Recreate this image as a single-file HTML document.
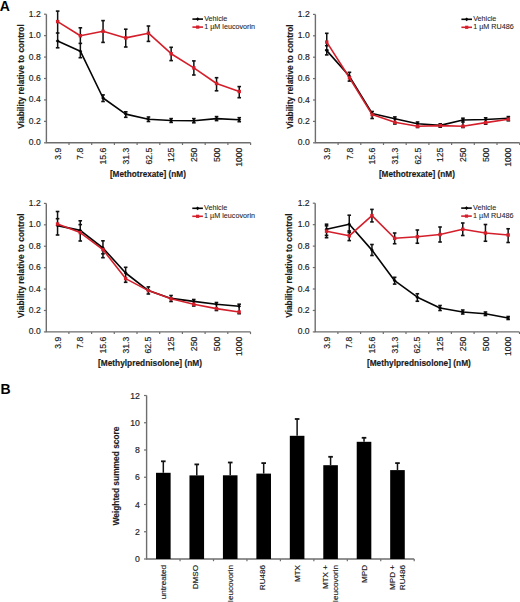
<!DOCTYPE html>
<html><head><meta charset="utf-8"><style>
html,body{margin:0;padding:0;background:#fff;}
body{width:520px;height:602px;overflow:hidden;}
svg{display:block;}
text{font-family:"Liberation Sans",sans-serif;}
.tk,.tkb,.tkb2{stroke:#222;stroke-width:0.16px;}
.lg{stroke:#333;stroke-width:0.08px;}
.tk{font-size:8.6px;fill:#222;}
.tkb{font-size:8.7px;fill:#222;}
.tkb2{font-size:8.1px;fill:#222;}
.tt{font-size:8.3px;font-weight:bold;fill:#1a1a1a;stroke:#1a1a1a;stroke-width:0.15px;}
.lg{font-size:7.2px;fill:#222;}
.pl{font-size:14px;font-weight:bold;fill:#000;}
.e{stroke:#111;stroke-width:1.5;}
.ec{stroke:#111;stroke-width:1.6;}
</style></head><body>
<svg width="520" height="602" viewBox="0 0 520 602">
<rect width="520" height="602" fill="#fff"/>
<text x="-0.3" y="10.5" class="pl">A</text>
<path d="M46.4 14.2V142.8H250.6" fill="none" stroke="#6e6e6e" stroke-width="1.4"/>
<line x1="44" y1="142.8" x2="46.4" y2="142.8" stroke="#6e6e6e" stroke-width="1.2"/>
<text x="40.8" y="145.3" class="tk" text-anchor="end">0.0</text>
<line x1="44" y1="121.37" x2="46.4" y2="121.37" stroke="#6e6e6e" stroke-width="1.2"/>
<text x="40.8" y="123.87" class="tk" text-anchor="end">0.2</text>
<line x1="44" y1="99.93" x2="46.4" y2="99.93" stroke="#6e6e6e" stroke-width="1.2"/>
<text x="40.8" y="102.43" class="tk" text-anchor="end">0.4</text>
<line x1="44" y1="78.5" x2="46.4" y2="78.5" stroke="#6e6e6e" stroke-width="1.2"/>
<text x="40.8" y="81" class="tk" text-anchor="end">0.6</text>
<line x1="44" y1="57.07" x2="46.4" y2="57.07" stroke="#6e6e6e" stroke-width="1.2"/>
<text x="40.8" y="59.57" class="tk" text-anchor="end">0.8</text>
<line x1="44" y1="35.63" x2="46.4" y2="35.63" stroke="#6e6e6e" stroke-width="1.2"/>
<text x="40.8" y="38.13" class="tk" text-anchor="end">1.0</text>
<line x1="44" y1="14.2" x2="46.4" y2="14.2" stroke="#6e6e6e" stroke-width="1.2"/>
<text x="40.8" y="16.7" class="tk" text-anchor="end">1.2</text>
<line x1="69" y1="142.8" x2="69" y2="145" stroke="#6e6e6e" stroke-width="1.2"/>
<line x1="91.7" y1="142.8" x2="91.7" y2="145" stroke="#6e6e6e" stroke-width="1.2"/>
<line x1="114.4" y1="142.8" x2="114.4" y2="145" stroke="#6e6e6e" stroke-width="1.2"/>
<line x1="137.1" y1="142.8" x2="137.1" y2="145" stroke="#6e6e6e" stroke-width="1.2"/>
<line x1="159.8" y1="142.8" x2="159.8" y2="145" stroke="#6e6e6e" stroke-width="1.2"/>
<line x1="182.5" y1="142.8" x2="182.5" y2="145" stroke="#6e6e6e" stroke-width="1.2"/>
<line x1="205.2" y1="142.8" x2="205.2" y2="145" stroke="#6e6e6e" stroke-width="1.2"/>
<line x1="227.9" y1="142.8" x2="227.9" y2="145" stroke="#6e6e6e" stroke-width="1.2"/>
<line x1="250.6" y1="142.8" x2="250.6" y2="145" stroke="#6e6e6e" stroke-width="1.2"/>
<text transform="translate(60.75 147.7) rotate(-90)" class="tk" text-anchor="end">3.9</text>
<text transform="translate(83.45 147.7) rotate(-90)" class="tk" text-anchor="end">7.8</text>
<text transform="translate(106.15 147.7) rotate(-90)" class="tk" text-anchor="end">15.6</text>
<text transform="translate(128.85 147.7) rotate(-90)" class="tk" text-anchor="end">31.3</text>
<text transform="translate(151.55 147.7) rotate(-90)" class="tk" text-anchor="end">62.5</text>
<text transform="translate(174.25 147.7) rotate(-90)" class="tk" text-anchor="end">125</text>
<text transform="translate(196.95 147.7) rotate(-90)" class="tk" text-anchor="end">250</text>
<text transform="translate(219.65 147.7) rotate(-90)" class="tk" text-anchor="end">500</text>
<text transform="translate(242.35 147.7) rotate(-90)" class="tk" text-anchor="end">1000</text>
<text transform="translate(23.6 76.5) rotate(-90)" class="tt" text-anchor="middle" textLength="104.5" lengthAdjust="spacingAndGlyphs">Viability relative to control</text>
<text x="147.9" y="176.7" class="tt" text-anchor="middle" textLength="76" lengthAdjust="spacingAndGlyphs">[Methotrexate] (nM)</text>
<line x1="192.4" y1="19.1" x2="203" y2="19.1" stroke="#050505" stroke-width="1.6"/>
<path d="M197.7 17.2l1.9 1.9l-1.9 1.9l-1.9 -1.9z" fill="#050505"/>
<text x="204.2" y="21.2" class="lg">Vehicle</text>
<line x1="192.4" y1="27.1" x2="203" y2="27.1" stroke="#d41f2b" stroke-width="1.6"/>
<rect x="196.1" y="25.5" width="3.2" height="3.2" fill="#d41f2b"/>
<text x="204.2" y="29.2" class="lg">1 µM leucovorin</text>
<line x1="57.65" y1="11.1" x2="57.65" y2="47.8" class="e"/>
<line x1="55.85" y1="11.1" x2="59.45" y2="11.1" class="ec"/>
<line x1="55.85" y1="47.8" x2="59.45" y2="47.8" class="ec"/>
<line x1="55.85" y1="33" x2="59.45" y2="33" class="ec"/>
<line x1="80.35" y1="27.8" x2="80.35" y2="57.7" class="e"/>
<line x1="78.55" y1="27.8" x2="82.15" y2="27.8" class="ec"/>
<line x1="78.55" y1="57.7" x2="82.15" y2="57.7" class="ec"/>
<line x1="78.55" y1="43.4" x2="82.15" y2="43.4" class="ec"/>
<line x1="103.05" y1="20.6" x2="103.05" y2="42.4" class="e"/>
<line x1="101.25" y1="20.6" x2="104.85" y2="20.6" class="ec"/>
<line x1="101.25" y1="42.4" x2="104.85" y2="42.4" class="ec"/>
<line x1="103.05" y1="94.9" x2="103.05" y2="101.5" class="e"/>
<line x1="101.25" y1="94.9" x2="104.85" y2="94.9" class="ec"/>
<line x1="101.25" y1="101.5" x2="104.85" y2="101.5" class="ec"/>
<line x1="125.75" y1="29.2" x2="125.75" y2="47" class="e"/>
<line x1="123.95" y1="29.2" x2="127.55" y2="29.2" class="ec"/>
<line x1="123.95" y1="47" x2="127.55" y2="47" class="ec"/>
<line x1="125.75" y1="111.8" x2="125.75" y2="117.3" class="e"/>
<line x1="123.95" y1="111.8" x2="127.55" y2="111.8" class="ec"/>
<line x1="123.95" y1="117.3" x2="127.55" y2="117.3" class="ec"/>
<line x1="148.45" y1="26" x2="148.45" y2="41.4" class="e"/>
<line x1="146.65" y1="26" x2="150.25" y2="26" class="ec"/>
<line x1="146.65" y1="41.4" x2="150.25" y2="41.4" class="ec"/>
<line x1="148.45" y1="117" x2="148.45" y2="121.5" class="e"/>
<line x1="146.65" y1="117" x2="150.25" y2="117" class="ec"/>
<line x1="146.65" y1="121.5" x2="150.25" y2="121.5" class="ec"/>
<line x1="171.15" y1="47.3" x2="171.15" y2="60.6" class="e"/>
<line x1="169.35" y1="47.3" x2="172.95" y2="47.3" class="ec"/>
<line x1="169.35" y1="60.6" x2="172.95" y2="60.6" class="ec"/>
<line x1="171.15" y1="118.6" x2="171.15" y2="122.4" class="e"/>
<line x1="169.35" y1="118.6" x2="172.95" y2="118.6" class="ec"/>
<line x1="169.35" y1="122.4" x2="172.95" y2="122.4" class="ec"/>
<line x1="193.85" y1="60.9" x2="193.85" y2="75" class="e"/>
<line x1="192.05" y1="60.9" x2="195.65" y2="60.9" class="ec"/>
<line x1="192.05" y1="75" x2="195.65" y2="75" class="ec"/>
<line x1="193.85" y1="118.6" x2="193.85" y2="122.8" class="e"/>
<line x1="192.05" y1="118.6" x2="195.65" y2="118.6" class="ec"/>
<line x1="192.05" y1="122.8" x2="195.65" y2="122.8" class="ec"/>
<line x1="216.55" y1="77.7" x2="216.55" y2="90.8" class="e"/>
<line x1="214.75" y1="77.7" x2="218.35" y2="77.7" class="ec"/>
<line x1="214.75" y1="90.8" x2="218.35" y2="90.8" class="ec"/>
<line x1="216.55" y1="116.6" x2="216.55" y2="120.6" class="e"/>
<line x1="214.75" y1="116.6" x2="218.35" y2="116.6" class="ec"/>
<line x1="214.75" y1="120.6" x2="218.35" y2="120.6" class="ec"/>
<line x1="239.25" y1="86.6" x2="239.25" y2="97.7" class="e"/>
<line x1="237.45" y1="86.6" x2="241.05" y2="86.6" class="ec"/>
<line x1="237.45" y1="97.7" x2="241.05" y2="97.7" class="ec"/>
<line x1="239.25" y1="117.7" x2="239.25" y2="121.7" class="e"/>
<line x1="237.45" y1="117.7" x2="241.05" y2="117.7" class="ec"/>
<line x1="237.45" y1="121.7" x2="241.05" y2="121.7" class="ec"/>
<polyline points="57.65,41 80.35,51.2 103.05,98 125.75,114.1 148.45,119.3 171.15,120.5 193.85,120.7 216.55,118.6 239.25,119.7" fill="none" stroke="#050505" stroke-width="1.6" stroke-linejoin="round"/>
<polyline points="57.65,21.6 80.35,35.7 103.05,31.3 125.75,37.9 148.45,33.2 171.15,53.7 193.85,67.9 216.55,83.5 239.25,91.5" fill="none" stroke="#d41f2b" stroke-width="1.6" stroke-linejoin="round"/>
<path d="M57.65 39.1l1.9 1.9l-1.9 1.9l-1.9 -1.9z" fill="#050505"/>
<path d="M80.35 49.3l1.9 1.9l-1.9 1.9l-1.9 -1.9z" fill="#050505"/>
<path d="M103.05 96.1l1.9 1.9l-1.9 1.9l-1.9 -1.9z" fill="#050505"/>
<path d="M125.75 112.2l1.9 1.9l-1.9 1.9l-1.9 -1.9z" fill="#050505"/>
<path d="M148.45 117.4l1.9 1.9l-1.9 1.9l-1.9 -1.9z" fill="#050505"/>
<path d="M171.15 118.6l1.9 1.9l-1.9 1.9l-1.9 -1.9z" fill="#050505"/>
<path d="M193.85 118.8l1.9 1.9l-1.9 1.9l-1.9 -1.9z" fill="#050505"/>
<path d="M216.55 116.7l1.9 1.9l-1.9 1.9l-1.9 -1.9z" fill="#050505"/>
<path d="M239.25 117.8l1.9 1.9l-1.9 1.9l-1.9 -1.9z" fill="#050505"/>
<rect x="55.95" y="19.9" width="3.4" height="3.4" fill="#d41f2b"/>
<rect x="78.65" y="34" width="3.4" height="3.4" fill="#d41f2b"/>
<rect x="101.35" y="29.6" width="3.4" height="3.4" fill="#d41f2b"/>
<rect x="124.05" y="36.2" width="3.4" height="3.4" fill="#d41f2b"/>
<rect x="146.75" y="31.5" width="3.4" height="3.4" fill="#d41f2b"/>
<rect x="169.45" y="52" width="3.4" height="3.4" fill="#d41f2b"/>
<rect x="192.15" y="66.2" width="3.4" height="3.4" fill="#d41f2b"/>
<rect x="214.85" y="81.8" width="3.4" height="3.4" fill="#d41f2b"/>
<rect x="237.55" y="89.8" width="3.4" height="3.4" fill="#d41f2b"/>
<path d="M315.4 14.4V142.8H519.7" fill="none" stroke="#6e6e6e" stroke-width="1.4"/>
<line x1="313" y1="142.8" x2="315.4" y2="142.8" stroke="#6e6e6e" stroke-width="1.2"/>
<text x="309.8" y="145.3" class="tk" text-anchor="end">0.0</text>
<line x1="313" y1="121.4" x2="315.4" y2="121.4" stroke="#6e6e6e" stroke-width="1.2"/>
<text x="309.8" y="123.9" class="tk" text-anchor="end">0.2</text>
<line x1="313" y1="100" x2="315.4" y2="100" stroke="#6e6e6e" stroke-width="1.2"/>
<text x="309.8" y="102.5" class="tk" text-anchor="end">0.4</text>
<line x1="313" y1="78.6" x2="315.4" y2="78.6" stroke="#6e6e6e" stroke-width="1.2"/>
<text x="309.8" y="81.1" class="tk" text-anchor="end">0.6</text>
<line x1="313" y1="57.2" x2="315.4" y2="57.2" stroke="#6e6e6e" stroke-width="1.2"/>
<text x="309.8" y="59.7" class="tk" text-anchor="end">0.8</text>
<line x1="313" y1="35.8" x2="315.4" y2="35.8" stroke="#6e6e6e" stroke-width="1.2"/>
<text x="309.8" y="38.3" class="tk" text-anchor="end">1.0</text>
<line x1="313" y1="14.4" x2="315.4" y2="14.4" stroke="#6e6e6e" stroke-width="1.2"/>
<text x="309.8" y="16.9" class="tk" text-anchor="end">1.2</text>
<line x1="338.1" y1="142.8" x2="338.1" y2="145" stroke="#6e6e6e" stroke-width="1.2"/>
<line x1="360.8" y1="142.8" x2="360.8" y2="145" stroke="#6e6e6e" stroke-width="1.2"/>
<line x1="383.5" y1="142.8" x2="383.5" y2="145" stroke="#6e6e6e" stroke-width="1.2"/>
<line x1="406.2" y1="142.8" x2="406.2" y2="145" stroke="#6e6e6e" stroke-width="1.2"/>
<line x1="428.9" y1="142.8" x2="428.9" y2="145" stroke="#6e6e6e" stroke-width="1.2"/>
<line x1="451.6" y1="142.8" x2="451.6" y2="145" stroke="#6e6e6e" stroke-width="1.2"/>
<line x1="474.3" y1="142.8" x2="474.3" y2="145" stroke="#6e6e6e" stroke-width="1.2"/>
<line x1="497" y1="142.8" x2="497" y2="145" stroke="#6e6e6e" stroke-width="1.2"/>
<line x1="519.7" y1="142.8" x2="519.7" y2="145" stroke="#6e6e6e" stroke-width="1.2"/>
<text transform="translate(329.85 147.7) rotate(-90)" class="tk" text-anchor="end">3.9</text>
<text transform="translate(352.55 147.7) rotate(-90)" class="tk" text-anchor="end">7.8</text>
<text transform="translate(375.25 147.7) rotate(-90)" class="tk" text-anchor="end">15.6</text>
<text transform="translate(397.95 147.7) rotate(-90)" class="tk" text-anchor="end">31.3</text>
<text transform="translate(420.65 147.7) rotate(-90)" class="tk" text-anchor="end">62.5</text>
<text transform="translate(443.35 147.7) rotate(-90)" class="tk" text-anchor="end">125</text>
<text transform="translate(466.05 147.7) rotate(-90)" class="tk" text-anchor="end">250</text>
<text transform="translate(488.75 147.7) rotate(-90)" class="tk" text-anchor="end">500</text>
<text transform="translate(511.45 147.7) rotate(-90)" class="tk" text-anchor="end">1000</text>
<text transform="translate(292.6 76.6) rotate(-90)" class="tt" text-anchor="middle" textLength="104.5" lengthAdjust="spacingAndGlyphs">Viability relative to control</text>
<text x="416.9" y="176.7" class="tt" text-anchor="middle" textLength="76" lengthAdjust="spacingAndGlyphs">[Methotrexate] (nM)</text>
<line x1="461.4" y1="19.3" x2="472" y2="19.3" stroke="#050505" stroke-width="1.6"/>
<path d="M466.7 17.4l1.9 1.9l-1.9 1.9l-1.9 -1.9z" fill="#050505"/>
<text x="473.2" y="21.4" class="lg">Vehicle</text>
<line x1="461.4" y1="27.3" x2="472" y2="27.3" stroke="#d41f2b" stroke-width="1.6"/>
<rect x="465.1" y="25.7" width="3.2" height="3.2" fill="#d41f2b"/>
<text x="473.2" y="29.4" class="lg">1 µM RU486</text>
<line x1="326.75" y1="33.3" x2="326.75" y2="54.9" class="e"/>
<line x1="324.95" y1="33.3" x2="328.55" y2="33.3" class="ec"/>
<line x1="324.95" y1="54.9" x2="328.55" y2="54.9" class="ec"/>
<line x1="324.95" y1="45.7" x2="328.55" y2="45.7" class="ec"/>
<line x1="324.95" y1="50" x2="328.55" y2="50" class="ec"/>
<line x1="349.45" y1="72.3" x2="349.45" y2="81.1" class="e"/>
<line x1="347.65" y1="72.3" x2="351.25" y2="72.3" class="ec"/>
<line x1="347.65" y1="81.1" x2="351.25" y2="81.1" class="ec"/>
<line x1="372.15" y1="111.5" x2="372.15" y2="118.5" class="e"/>
<line x1="370.35" y1="111.5" x2="373.95" y2="111.5" class="ec"/>
<line x1="370.35" y1="118.5" x2="373.95" y2="118.5" class="ec"/>
<line x1="394.85" y1="116.9" x2="394.85" y2="124" class="e"/>
<line x1="393.05" y1="116.9" x2="396.65" y2="116.9" class="ec"/>
<line x1="393.05" y1="124" x2="396.65" y2="124" class="ec"/>
<line x1="417.55" y1="122" x2="417.55" y2="127.5" class="e"/>
<line x1="415.75" y1="122" x2="419.35" y2="122" class="ec"/>
<line x1="415.75" y1="127.5" x2="419.35" y2="127.5" class="ec"/>
<line x1="440.25" y1="123.8" x2="440.25" y2="127.2" class="e"/>
<line x1="438.45" y1="123.8" x2="442.05" y2="123.8" class="ec"/>
<line x1="438.45" y1="127.2" x2="442.05" y2="127.2" class="ec"/>
<line x1="462.95" y1="118.2" x2="462.95" y2="127.5" class="e"/>
<line x1="461.15" y1="118.2" x2="464.75" y2="118.2" class="ec"/>
<line x1="461.15" y1="127.5" x2="464.75" y2="127.5" class="ec"/>
<line x1="461.15" y1="122" x2="464.75" y2="122" class="ec"/>
<line x1="485.65" y1="117.8" x2="485.65" y2="124.2" class="e"/>
<line x1="483.85" y1="117.8" x2="487.45" y2="117.8" class="ec"/>
<line x1="483.85" y1="124.2" x2="487.45" y2="124.2" class="ec"/>
<line x1="508.35" y1="116.6" x2="508.35" y2="120.8" class="e"/>
<line x1="506.55" y1="116.6" x2="510.15" y2="116.6" class="ec"/>
<line x1="506.55" y1="120.8" x2="510.15" y2="120.8" class="ec"/>
<polyline points="326.75,50.6 349.45,76.3 372.15,113.5 394.85,118.8 417.55,123.8 440.25,125.4 462.95,120 485.65,119.5 508.35,118.2" fill="none" stroke="#050505" stroke-width="1.6" stroke-linejoin="round"/>
<polyline points="326.75,42.1 349.45,77.8 372.15,114.6 394.85,122.3 417.55,126.2 440.25,125.6 462.95,126.2 485.65,122.6 508.35,119.2" fill="none" stroke="#d41f2b" stroke-width="1.6" stroke-linejoin="round"/>
<path d="M326.75 48.7l1.9 1.9l-1.9 1.9l-1.9 -1.9z" fill="#050505"/>
<path d="M349.45 74.4l1.9 1.9l-1.9 1.9l-1.9 -1.9z" fill="#050505"/>
<path d="M372.15 111.6l1.9 1.9l-1.9 1.9l-1.9 -1.9z" fill="#050505"/>
<path d="M394.85 116.9l1.9 1.9l-1.9 1.9l-1.9 -1.9z" fill="#050505"/>
<path d="M417.55 121.9l1.9 1.9l-1.9 1.9l-1.9 -1.9z" fill="#050505"/>
<path d="M440.25 123.5l1.9 1.9l-1.9 1.9l-1.9 -1.9z" fill="#050505"/>
<path d="M462.95 118.1l1.9 1.9l-1.9 1.9l-1.9 -1.9z" fill="#050505"/>
<path d="M485.65 117.6l1.9 1.9l-1.9 1.9l-1.9 -1.9z" fill="#050505"/>
<path d="M508.35 116.3l1.9 1.9l-1.9 1.9l-1.9 -1.9z" fill="#050505"/>
<rect x="325.05" y="40.4" width="3.4" height="3.4" fill="#d41f2b"/>
<rect x="347.75" y="76.1" width="3.4" height="3.4" fill="#d41f2b"/>
<rect x="370.45" y="112.9" width="3.4" height="3.4" fill="#d41f2b"/>
<rect x="393.15" y="120.6" width="3.4" height="3.4" fill="#d41f2b"/>
<rect x="415.85" y="124.5" width="3.4" height="3.4" fill="#d41f2b"/>
<rect x="438.55" y="123.9" width="3.4" height="3.4" fill="#d41f2b"/>
<rect x="461.25" y="124.5" width="3.4" height="3.4" fill="#d41f2b"/>
<rect x="483.95" y="120.9" width="3.4" height="3.4" fill="#d41f2b"/>
<rect x="506.65" y="117.5" width="3.4" height="3.4" fill="#d41f2b"/>
<path d="M46.3 203.4V331.9H250.5" fill="none" stroke="#6e6e6e" stroke-width="1.4"/>
<line x1="43.9" y1="331.9" x2="46.3" y2="331.9" stroke="#6e6e6e" stroke-width="1.2"/>
<text x="40.7" y="334.4" class="tk" text-anchor="end">0.0</text>
<line x1="43.9" y1="310.48" x2="46.3" y2="310.48" stroke="#6e6e6e" stroke-width="1.2"/>
<text x="40.7" y="312.98" class="tk" text-anchor="end">0.2</text>
<line x1="43.9" y1="289.07" x2="46.3" y2="289.07" stroke="#6e6e6e" stroke-width="1.2"/>
<text x="40.7" y="291.57" class="tk" text-anchor="end">0.4</text>
<line x1="43.9" y1="267.65" x2="46.3" y2="267.65" stroke="#6e6e6e" stroke-width="1.2"/>
<text x="40.7" y="270.15" class="tk" text-anchor="end">0.6</text>
<line x1="43.9" y1="246.23" x2="46.3" y2="246.23" stroke="#6e6e6e" stroke-width="1.2"/>
<text x="40.7" y="248.73" class="tk" text-anchor="end">0.8</text>
<line x1="43.9" y1="224.82" x2="46.3" y2="224.82" stroke="#6e6e6e" stroke-width="1.2"/>
<text x="40.7" y="227.32" class="tk" text-anchor="end">1.0</text>
<line x1="43.9" y1="203.4" x2="46.3" y2="203.4" stroke="#6e6e6e" stroke-width="1.2"/>
<text x="40.7" y="205.9" class="tk" text-anchor="end">1.2</text>
<line x1="68.9" y1="331.9" x2="68.9" y2="334.1" stroke="#6e6e6e" stroke-width="1.2"/>
<line x1="91.6" y1="331.9" x2="91.6" y2="334.1" stroke="#6e6e6e" stroke-width="1.2"/>
<line x1="114.3" y1="331.9" x2="114.3" y2="334.1" stroke="#6e6e6e" stroke-width="1.2"/>
<line x1="137" y1="331.9" x2="137" y2="334.1" stroke="#6e6e6e" stroke-width="1.2"/>
<line x1="159.7" y1="331.9" x2="159.7" y2="334.1" stroke="#6e6e6e" stroke-width="1.2"/>
<line x1="182.4" y1="331.9" x2="182.4" y2="334.1" stroke="#6e6e6e" stroke-width="1.2"/>
<line x1="205.1" y1="331.9" x2="205.1" y2="334.1" stroke="#6e6e6e" stroke-width="1.2"/>
<line x1="227.8" y1="331.9" x2="227.8" y2="334.1" stroke="#6e6e6e" stroke-width="1.2"/>
<line x1="250.5" y1="331.9" x2="250.5" y2="334.1" stroke="#6e6e6e" stroke-width="1.2"/>
<text transform="translate(60.65 336.8) rotate(-90)" class="tk" text-anchor="end">3.9</text>
<text transform="translate(83.35 336.8) rotate(-90)" class="tk" text-anchor="end">7.8</text>
<text transform="translate(106.05 336.8) rotate(-90)" class="tk" text-anchor="end">15.6</text>
<text transform="translate(128.75 336.8) rotate(-90)" class="tk" text-anchor="end">31.3</text>
<text transform="translate(151.45 336.8) rotate(-90)" class="tk" text-anchor="end">62.5</text>
<text transform="translate(174.15 336.8) rotate(-90)" class="tk" text-anchor="end">125</text>
<text transform="translate(196.85 336.8) rotate(-90)" class="tk" text-anchor="end">250</text>
<text transform="translate(219.55 336.8) rotate(-90)" class="tk" text-anchor="end">500</text>
<text transform="translate(242.25 336.8) rotate(-90)" class="tk" text-anchor="end">1000</text>
<text transform="translate(23.5 265.65) rotate(-90)" class="tt" text-anchor="middle" textLength="104.5" lengthAdjust="spacingAndGlyphs">Viability relative to control</text>
<text x="150" y="366.3" class="tt" text-anchor="middle" textLength="104" lengthAdjust="spacingAndGlyphs">[Methylprednisolone] (nM)</text>
<line x1="192.3" y1="208.3" x2="202.9" y2="208.3" stroke="#050505" stroke-width="1.6"/>
<path d="M197.6 206.4l1.9 1.9l-1.9 1.9l-1.9 -1.9z" fill="#050505"/>
<text x="204.1" y="210.4" class="lg">Vehicle</text>
<line x1="192.3" y1="216.3" x2="202.9" y2="216.3" stroke="#d41f2b" stroke-width="1.6"/>
<rect x="196" y="214.7" width="3.2" height="3.2" fill="#d41f2b"/>
<text x="204.1" y="218.4" class="lg">1 µM leucovorin</text>
<line x1="57.55" y1="211.5" x2="57.55" y2="235" class="e"/>
<line x1="55.75" y1="211.5" x2="59.35" y2="211.5" class="ec"/>
<line x1="55.75" y1="235" x2="59.35" y2="235" class="ec"/>
<line x1="55.75" y1="218.7" x2="59.35" y2="218.7" class="ec"/>
<line x1="80.25" y1="220.8" x2="80.25" y2="241" class="e"/>
<line x1="78.45" y1="220.8" x2="82.05" y2="220.8" class="ec"/>
<line x1="78.45" y1="241" x2="82.05" y2="241" class="ec"/>
<line x1="78.45" y1="224.6" x2="82.05" y2="224.6" class="ec"/>
<line x1="102.95" y1="240.8" x2="102.95" y2="257.7" class="e"/>
<line x1="101.15" y1="240.8" x2="104.75" y2="240.8" class="ec"/>
<line x1="101.15" y1="257.7" x2="104.75" y2="257.7" class="ec"/>
<line x1="101.15" y1="253.8" x2="104.75" y2="253.8" class="ec"/>
<line x1="125.65" y1="267.3" x2="125.65" y2="282.3" class="e"/>
<line x1="123.85" y1="267.3" x2="127.45" y2="267.3" class="ec"/>
<line x1="123.85" y1="282.3" x2="127.45" y2="282.3" class="ec"/>
<line x1="148.35" y1="286.9" x2="148.35" y2="294" class="e"/>
<line x1="146.55" y1="286.9" x2="150.15" y2="286.9" class="ec"/>
<line x1="146.55" y1="294" x2="150.15" y2="294" class="ec"/>
<line x1="171.05" y1="295.5" x2="171.05" y2="301.5" class="e"/>
<line x1="169.25" y1="295.5" x2="172.85" y2="295.5" class="ec"/>
<line x1="169.25" y1="301.5" x2="172.85" y2="301.5" class="ec"/>
<line x1="193.75" y1="299.5" x2="193.75" y2="306" class="e"/>
<line x1="191.95" y1="299.5" x2="195.55" y2="299.5" class="ec"/>
<line x1="191.95" y1="306" x2="195.55" y2="306" class="ec"/>
<line x1="216.45" y1="302.5" x2="216.45" y2="310.5" class="e"/>
<line x1="214.65" y1="302.5" x2="218.25" y2="302.5" class="ec"/>
<line x1="214.65" y1="310.5" x2="218.25" y2="310.5" class="ec"/>
<line x1="239.15" y1="304.2" x2="239.15" y2="313.7" class="e"/>
<line x1="237.35" y1="304.2" x2="240.95" y2="304.2" class="ec"/>
<line x1="237.35" y1="313.7" x2="240.95" y2="313.7" class="ec"/>
<polyline points="57.55,225.6 80.25,230.4 102.95,248 125.65,273 148.35,290.6 171.05,298.4 193.75,301.4 216.45,304.3 239.15,306.2" fill="none" stroke="#050505" stroke-width="1.6" stroke-linejoin="round"/>
<polyline points="57.55,224 80.25,232.6 102.95,249.6 125.65,278.6 148.35,290.6 171.05,298.8 193.75,304.2 216.45,308.6 239.15,312" fill="none" stroke="#d41f2b" stroke-width="1.6" stroke-linejoin="round"/>
<path d="M57.55 223.7l1.9 1.9l-1.9 1.9l-1.9 -1.9z" fill="#050505"/>
<path d="M80.25 228.5l1.9 1.9l-1.9 1.9l-1.9 -1.9z" fill="#050505"/>
<path d="M102.95 246.1l1.9 1.9l-1.9 1.9l-1.9 -1.9z" fill="#050505"/>
<path d="M125.65 271.1l1.9 1.9l-1.9 1.9l-1.9 -1.9z" fill="#050505"/>
<path d="M148.35 288.7l1.9 1.9l-1.9 1.9l-1.9 -1.9z" fill="#050505"/>
<path d="M171.05 296.5l1.9 1.9l-1.9 1.9l-1.9 -1.9z" fill="#050505"/>
<path d="M193.75 299.5l1.9 1.9l-1.9 1.9l-1.9 -1.9z" fill="#050505"/>
<path d="M216.45 302.4l1.9 1.9l-1.9 1.9l-1.9 -1.9z" fill="#050505"/>
<path d="M239.15 304.3l1.9 1.9l-1.9 1.9l-1.9 -1.9z" fill="#050505"/>
<rect x="55.85" y="222.3" width="3.4" height="3.4" fill="#d41f2b"/>
<rect x="78.55" y="230.9" width="3.4" height="3.4" fill="#d41f2b"/>
<rect x="101.25" y="247.9" width="3.4" height="3.4" fill="#d41f2b"/>
<rect x="123.95" y="276.9" width="3.4" height="3.4" fill="#d41f2b"/>
<rect x="146.65" y="288.9" width="3.4" height="3.4" fill="#d41f2b"/>
<rect x="169.35" y="297.1" width="3.4" height="3.4" fill="#d41f2b"/>
<rect x="192.05" y="302.5" width="3.4" height="3.4" fill="#d41f2b"/>
<rect x="214.75" y="306.9" width="3.4" height="3.4" fill="#d41f2b"/>
<rect x="237.45" y="310.3" width="3.4" height="3.4" fill="#d41f2b"/>
<path d="M315.2 203.2V331.9H519.5" fill="none" stroke="#6e6e6e" stroke-width="1.4"/>
<line x1="312.8" y1="331.9" x2="315.2" y2="331.9" stroke="#6e6e6e" stroke-width="1.2"/>
<text x="309.6" y="334.4" class="tk" text-anchor="end">0.0</text>
<line x1="312.8" y1="310.45" x2="315.2" y2="310.45" stroke="#6e6e6e" stroke-width="1.2"/>
<text x="309.6" y="312.95" class="tk" text-anchor="end">0.2</text>
<line x1="312.8" y1="289" x2="315.2" y2="289" stroke="#6e6e6e" stroke-width="1.2"/>
<text x="309.6" y="291.5" class="tk" text-anchor="end">0.4</text>
<line x1="312.8" y1="267.55" x2="315.2" y2="267.55" stroke="#6e6e6e" stroke-width="1.2"/>
<text x="309.6" y="270.05" class="tk" text-anchor="end">0.6</text>
<line x1="312.8" y1="246.1" x2="315.2" y2="246.1" stroke="#6e6e6e" stroke-width="1.2"/>
<text x="309.6" y="248.6" class="tk" text-anchor="end">0.8</text>
<line x1="312.8" y1="224.65" x2="315.2" y2="224.65" stroke="#6e6e6e" stroke-width="1.2"/>
<text x="309.6" y="227.15" class="tk" text-anchor="end">1.0</text>
<line x1="312.8" y1="203.2" x2="315.2" y2="203.2" stroke="#6e6e6e" stroke-width="1.2"/>
<text x="309.6" y="205.7" class="tk" text-anchor="end">1.2</text>
<line x1="337.9" y1="331.9" x2="337.9" y2="334.1" stroke="#6e6e6e" stroke-width="1.2"/>
<line x1="360.6" y1="331.9" x2="360.6" y2="334.1" stroke="#6e6e6e" stroke-width="1.2"/>
<line x1="383.3" y1="331.9" x2="383.3" y2="334.1" stroke="#6e6e6e" stroke-width="1.2"/>
<line x1="406" y1="331.9" x2="406" y2="334.1" stroke="#6e6e6e" stroke-width="1.2"/>
<line x1="428.7" y1="331.9" x2="428.7" y2="334.1" stroke="#6e6e6e" stroke-width="1.2"/>
<line x1="451.4" y1="331.9" x2="451.4" y2="334.1" stroke="#6e6e6e" stroke-width="1.2"/>
<line x1="474.1" y1="331.9" x2="474.1" y2="334.1" stroke="#6e6e6e" stroke-width="1.2"/>
<line x1="496.8" y1="331.9" x2="496.8" y2="334.1" stroke="#6e6e6e" stroke-width="1.2"/>
<line x1="519.5" y1="331.9" x2="519.5" y2="334.1" stroke="#6e6e6e" stroke-width="1.2"/>
<text transform="translate(329.65 336.8) rotate(-90)" class="tk" text-anchor="end">3.9</text>
<text transform="translate(352.35 336.8) rotate(-90)" class="tk" text-anchor="end">7.8</text>
<text transform="translate(375.05 336.8) rotate(-90)" class="tk" text-anchor="end">15.6</text>
<text transform="translate(397.75 336.8) rotate(-90)" class="tk" text-anchor="end">31.3</text>
<text transform="translate(420.45 336.8) rotate(-90)" class="tk" text-anchor="end">62.5</text>
<text transform="translate(443.15 336.8) rotate(-90)" class="tk" text-anchor="end">125</text>
<text transform="translate(465.85 336.8) rotate(-90)" class="tk" text-anchor="end">250</text>
<text transform="translate(488.55 336.8) rotate(-90)" class="tk" text-anchor="end">500</text>
<text transform="translate(511.25 336.8) rotate(-90)" class="tk" text-anchor="end">1000</text>
<text transform="translate(292.4 265.55) rotate(-90)" class="tt" text-anchor="middle" textLength="104.5" lengthAdjust="spacingAndGlyphs">Viability relative to control</text>
<text x="418.9" y="366.3" class="tt" text-anchor="middle" textLength="104" lengthAdjust="spacingAndGlyphs">[Methylprednisolone] (nM)</text>
<line x1="461.2" y1="208.1" x2="471.8" y2="208.1" stroke="#050505" stroke-width="1.6"/>
<path d="M466.5 206.2l1.9 1.9l-1.9 1.9l-1.9 -1.9z" fill="#050505"/>
<text x="473" y="210.2" class="lg">Vehicle</text>
<line x1="461.2" y1="216.1" x2="471.8" y2="216.1" stroke="#d41f2b" stroke-width="1.6"/>
<rect x="464.9" y="214.5" width="3.2" height="3.2" fill="#d41f2b"/>
<text x="473" y="218.2" class="lg">1 µM RU486</text>
<line x1="326.55" y1="224.2" x2="326.55" y2="237.7" class="e"/>
<line x1="324.75" y1="224.2" x2="328.35" y2="224.2" class="ec"/>
<line x1="324.75" y1="237.7" x2="328.35" y2="237.7" class="ec"/>
<line x1="324.75" y1="225.8" x2="328.35" y2="225.8" class="ec"/>
<line x1="324.75" y1="235.4" x2="328.35" y2="235.4" class="ec"/>
<line x1="349.25" y1="215.2" x2="349.25" y2="240.6" class="e"/>
<line x1="347.45" y1="215.2" x2="351.05" y2="215.2" class="ec"/>
<line x1="347.45" y1="240.6" x2="351.05" y2="240.6" class="ec"/>
<line x1="347.45" y1="232.5" x2="351.05" y2="232.5" class="ec"/>
<line x1="347.45" y1="231" x2="351.05" y2="231" class="ec"/>
<line x1="371.95" y1="209.4" x2="371.95" y2="221.9" class="e"/>
<line x1="370.15" y1="209.4" x2="373.75" y2="209.4" class="ec"/>
<line x1="370.15" y1="221.9" x2="373.75" y2="221.9" class="ec"/>
<line x1="371.95" y1="244.5" x2="371.95" y2="255.5" class="e"/>
<line x1="370.15" y1="244.5" x2="373.75" y2="244.5" class="ec"/>
<line x1="370.15" y1="255.5" x2="373.75" y2="255.5" class="ec"/>
<line x1="394.65" y1="233" x2="394.65" y2="243.75" class="e"/>
<line x1="392.85" y1="233" x2="396.45" y2="233" class="ec"/>
<line x1="392.85" y1="243.75" x2="396.45" y2="243.75" class="ec"/>
<line x1="394.65" y1="277.3" x2="394.65" y2="284.1" class="e"/>
<line x1="392.85" y1="277.3" x2="396.45" y2="277.3" class="ec"/>
<line x1="392.85" y1="284.1" x2="396.45" y2="284.1" class="ec"/>
<line x1="417.35" y1="230" x2="417.35" y2="243.25" class="e"/>
<line x1="415.55" y1="230" x2="419.15" y2="230" class="ec"/>
<line x1="415.55" y1="243.25" x2="419.15" y2="243.25" class="ec"/>
<line x1="417.35" y1="293.75" x2="417.35" y2="301.25" class="e"/>
<line x1="415.55" y1="293.75" x2="419.15" y2="293.75" class="ec"/>
<line x1="415.55" y1="301.25" x2="419.15" y2="301.25" class="ec"/>
<line x1="440.05" y1="227" x2="440.05" y2="242" class="e"/>
<line x1="438.25" y1="227" x2="441.85" y2="227" class="ec"/>
<line x1="438.25" y1="242" x2="441.85" y2="242" class="ec"/>
<line x1="440.05" y1="305.5" x2="440.05" y2="310.5" class="e"/>
<line x1="438.25" y1="305.5" x2="441.85" y2="305.5" class="ec"/>
<line x1="438.25" y1="310.5" x2="441.85" y2="310.5" class="ec"/>
<line x1="462.75" y1="223" x2="462.75" y2="235.5" class="e"/>
<line x1="460.95" y1="223" x2="464.55" y2="223" class="ec"/>
<line x1="460.95" y1="235.5" x2="464.55" y2="235.5" class="ec"/>
<line x1="462.75" y1="310" x2="462.75" y2="314" class="e"/>
<line x1="460.95" y1="310" x2="464.55" y2="310" class="ec"/>
<line x1="460.95" y1="314" x2="464.55" y2="314" class="ec"/>
<line x1="485.45" y1="224.5" x2="485.45" y2="241.25" class="e"/>
<line x1="483.65" y1="224.5" x2="487.25" y2="224.5" class="ec"/>
<line x1="483.65" y1="241.25" x2="487.25" y2="241.25" class="ec"/>
<line x1="485.45" y1="312" x2="485.45" y2="315.5" class="e"/>
<line x1="483.65" y1="312" x2="487.25" y2="312" class="ec"/>
<line x1="483.65" y1="315.5" x2="487.25" y2="315.5" class="ec"/>
<line x1="508.15" y1="228.75" x2="508.15" y2="242.5" class="e"/>
<line x1="506.35" y1="228.75" x2="509.95" y2="228.75" class="ec"/>
<line x1="506.35" y1="242.5" x2="509.95" y2="242.5" class="ec"/>
<line x1="508.15" y1="316.5" x2="508.15" y2="319.5" class="e"/>
<line x1="506.35" y1="316.5" x2="509.95" y2="316.5" class="ec"/>
<line x1="506.35" y1="319.5" x2="509.95" y2="319.5" class="ec"/>
<polyline points="326.55,229.2 349.25,224.2 371.95,250.1 394.65,280.7 417.35,297.2 440.05,308 462.75,312 485.45,313.75 508.15,318" fill="none" stroke="#050505" stroke-width="1.6" stroke-linejoin="round"/>
<polyline points="326.55,231.2 349.25,235.8 371.95,215.6 394.65,238.3 417.35,236.75 440.05,234.5 462.75,229.25 485.45,233 508.15,235" fill="none" stroke="#d41f2b" stroke-width="1.6" stroke-linejoin="round"/>
<path d="M326.55 227.3l1.9 1.9l-1.9 1.9l-1.9 -1.9z" fill="#050505"/>
<path d="M349.25 222.3l1.9 1.9l-1.9 1.9l-1.9 -1.9z" fill="#050505"/>
<path d="M371.95 248.2l1.9 1.9l-1.9 1.9l-1.9 -1.9z" fill="#050505"/>
<path d="M394.65 278.8l1.9 1.9l-1.9 1.9l-1.9 -1.9z" fill="#050505"/>
<path d="M417.35 295.3l1.9 1.9l-1.9 1.9l-1.9 -1.9z" fill="#050505"/>
<path d="M440.05 306.1l1.9 1.9l-1.9 1.9l-1.9 -1.9z" fill="#050505"/>
<path d="M462.75 310.1l1.9 1.9l-1.9 1.9l-1.9 -1.9z" fill="#050505"/>
<path d="M485.45 311.85l1.9 1.9l-1.9 1.9l-1.9 -1.9z" fill="#050505"/>
<path d="M508.15 316.1l1.9 1.9l-1.9 1.9l-1.9 -1.9z" fill="#050505"/>
<rect x="324.85" y="229.5" width="3.4" height="3.4" fill="#d41f2b"/>
<rect x="347.55" y="234.1" width="3.4" height="3.4" fill="#d41f2b"/>
<rect x="370.25" y="213.9" width="3.4" height="3.4" fill="#d41f2b"/>
<rect x="392.95" y="236.6" width="3.4" height="3.4" fill="#d41f2b"/>
<rect x="415.65" y="235.05" width="3.4" height="3.4" fill="#d41f2b"/>
<rect x="438.35" y="232.8" width="3.4" height="3.4" fill="#d41f2b"/>
<rect x="461.05" y="227.55" width="3.4" height="3.4" fill="#d41f2b"/>
<rect x="483.75" y="231.3" width="3.4" height="3.4" fill="#d41f2b"/>
<rect x="506.45" y="233.3" width="3.4" height="3.4" fill="#d41f2b"/>
<text x="0.4" y="393.6" class="pl">B</text>
<path d="M146.6 395.5V559H414.2" fill="none" stroke="#6e6e6e" stroke-width="1.4"/>
<line x1="144" y1="559" x2="146.6" y2="559" stroke="#6e6e6e" stroke-width="1.2"/>
<text x="139.8" y="562" class="tkb" text-anchor="end">0</text>
<line x1="144" y1="531.75" x2="146.6" y2="531.75" stroke="#6e6e6e" stroke-width="1.2"/>
<text x="139.8" y="534.75" class="tkb" text-anchor="end">2</text>
<line x1="144" y1="504.5" x2="146.6" y2="504.5" stroke="#6e6e6e" stroke-width="1.2"/>
<text x="139.8" y="507.5" class="tkb" text-anchor="end">4</text>
<line x1="144" y1="477.25" x2="146.6" y2="477.25" stroke="#6e6e6e" stroke-width="1.2"/>
<text x="139.8" y="480.25" class="tkb" text-anchor="end">6</text>
<line x1="144" y1="450" x2="146.6" y2="450" stroke="#6e6e6e" stroke-width="1.2"/>
<text x="139.8" y="453" class="tkb" text-anchor="end">8</text>
<line x1="144" y1="422.75" x2="146.6" y2="422.75" stroke="#6e6e6e" stroke-width="1.2"/>
<text x="139.8" y="425.75" class="tkb" text-anchor="end">10</text>
<line x1="144" y1="395.5" x2="146.6" y2="395.5" stroke="#6e6e6e" stroke-width="1.2"/>
<text x="139.8" y="398.5" class="tkb" text-anchor="end">12</text>
<line x1="180.05" y1="559" x2="180.05" y2="561.2" stroke="#6e6e6e" stroke-width="1.2"/>
<line x1="213.5" y1="559" x2="213.5" y2="561.2" stroke="#6e6e6e" stroke-width="1.2"/>
<line x1="246.95" y1="559" x2="246.95" y2="561.2" stroke="#6e6e6e" stroke-width="1.2"/>
<line x1="280.4" y1="559" x2="280.4" y2="561.2" stroke="#6e6e6e" stroke-width="1.2"/>
<line x1="313.85" y1="559" x2="313.85" y2="561.2" stroke="#6e6e6e" stroke-width="1.2"/>
<line x1="347.3" y1="559" x2="347.3" y2="561.2" stroke="#6e6e6e" stroke-width="1.2"/>
<line x1="380.75" y1="559" x2="380.75" y2="561.2" stroke="#6e6e6e" stroke-width="1.2"/>
<line x1="414.2" y1="559" x2="414.2" y2="561.2" stroke="#6e6e6e" stroke-width="1.2"/>
<rect x="156.02" y="472.8" width="14.6" height="86.2" fill="#000"/>
<line x1="163.32" y1="461.3" x2="163.32" y2="472.8" stroke="#111" stroke-width="1.5"/>
<line x1="161.02" y1="461.3" x2="165.62" y2="461.3" stroke="#111" stroke-width="1.8"/>
<rect x="189.47" y="475.4" width="14.6" height="83.6" fill="#000"/>
<line x1="196.78" y1="464.4" x2="196.78" y2="475.4" stroke="#111" stroke-width="1.5"/>
<line x1="194.47" y1="464.4" x2="199.08" y2="464.4" stroke="#111" stroke-width="1.8"/>
<rect x="222.92" y="475.3" width="14.6" height="83.7" fill="#000"/>
<line x1="230.22" y1="462.5" x2="230.22" y2="475.3" stroke="#111" stroke-width="1.5"/>
<line x1="227.92" y1="462.5" x2="232.53" y2="462.5" stroke="#111" stroke-width="1.8"/>
<rect x="256.38" y="473.6" width="14.6" height="85.4" fill="#000"/>
<line x1="263.68" y1="463.1" x2="263.68" y2="473.6" stroke="#111" stroke-width="1.5"/>
<line x1="261.38" y1="463.1" x2="265.98" y2="463.1" stroke="#111" stroke-width="1.8"/>
<rect x="289.82" y="435.8" width="14.6" height="123.2" fill="#000"/>
<line x1="297.12" y1="419" x2="297.12" y2="435.8" stroke="#111" stroke-width="1.5"/>
<line x1="294.82" y1="419" x2="299.43" y2="419" stroke="#111" stroke-width="1.8"/>
<rect x="323.28" y="465.2" width="14.6" height="93.8" fill="#000"/>
<line x1="330.58" y1="456.8" x2="330.58" y2="465.2" stroke="#111" stroke-width="1.5"/>
<line x1="328.28" y1="456.8" x2="332.88" y2="456.8" stroke="#111" stroke-width="1.8"/>
<rect x="356.72" y="441.8" width="14.6" height="117.2" fill="#000"/>
<line x1="364.02" y1="437.8" x2="364.02" y2="441.8" stroke="#111" stroke-width="1.5"/>
<line x1="361.72" y1="437.8" x2="366.32" y2="437.8" stroke="#111" stroke-width="1.8"/>
<rect x="390.18" y="470.1" width="14.6" height="88.9" fill="#000"/>
<line x1="397.48" y1="463.1" x2="397.48" y2="470.1" stroke="#111" stroke-width="1.5"/>
<line x1="395.18" y1="463.1" x2="399.78" y2="463.1" stroke="#111" stroke-width="1.8"/>
<text transform="translate(165.92 565) rotate(-90)" class="tkb2" text-anchor="end">untreated</text>
<text transform="translate(198.48 565) rotate(-90)" class="tkb2" text-anchor="end">DMSO</text>
<text transform="translate(233.12 565) rotate(-90)" class="tkb2" text-anchor="end">leucovorin</text>
<text transform="translate(265.27 565) rotate(-90)" class="tkb2" text-anchor="end">RU486</text>
<text transform="translate(300.02 565) rotate(-90)" class="tkb2" text-anchor="end">MTX</text>
<text transform="translate(328.28 565) rotate(-90)" class="tkb2" text-anchor="end">MTX +</text>
<text transform="translate(338.48 565) rotate(-90)" class="tkb2" text-anchor="end">leucovorin</text>
<text transform="translate(367.22 565) rotate(-90)" class="tkb2" text-anchor="end">MPD</text>
<text transform="translate(395.18 565) rotate(-90)" class="tkb2" text-anchor="end">MPD +</text>
<text transform="translate(404.68 565) rotate(-90)" class="tkb2" text-anchor="end">RU486</text>
<text transform="translate(119.4 476) rotate(-90)" class="tt" text-anchor="middle" textLength="99" lengthAdjust="spacingAndGlyphs">Weighted summed score</text>
</svg>
</body></html>
